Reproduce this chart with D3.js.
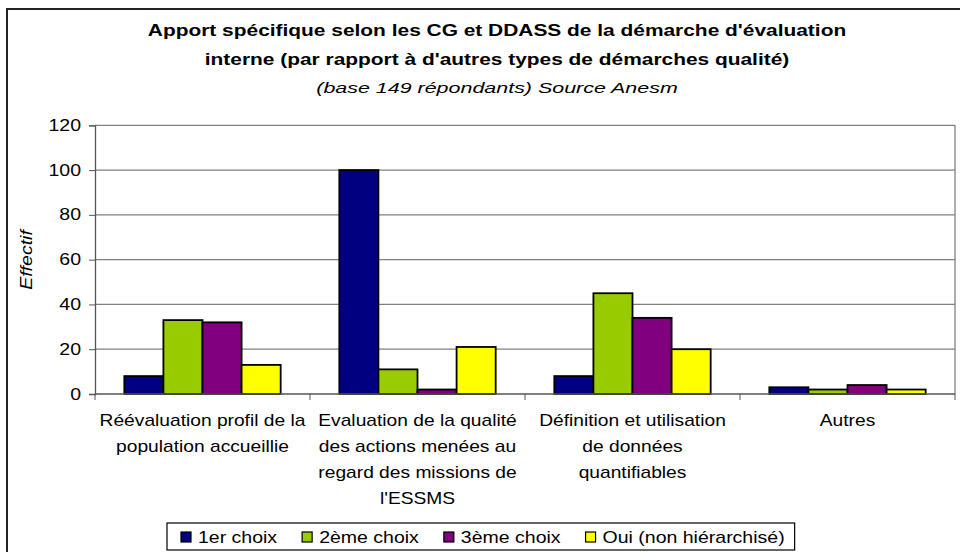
<!DOCTYPE html>
<meta charset="utf-8">
<head>
<title>Apport spécifique - évaluation interne</title>
<script src="https://cdn.jsdelivr.net/npm/d3@7"></script>
<style>
body { margin:0; background:#fff; }
text { font-family: Arial, "Liberation Sans", sans-serif; fill:#000; }
</style>
</head>
<body>
<svg id=mySVG width=960 height=552></svg>

<script>
// ---- data ----
var categories=[
  ["Réévaluation profil de la","population accueillie"],
  ["Evaluation de la qualité","des actions menées au","regard des missions de","l'ESSMS"],
  ["Définition et utilisation","de données","quantifiables"],
  ["Autres"]
]
var seriesNames=["1er choix","2ème choix","3ème choix","Oui (non hiérarchisé)"]
var seriesColors=["#000080","#99CC00","#800080","#FFFF00"]
var premierChoix=[8,100,8,3]
var deuxiemeChoix=[33,11,45,2]
var troisiemeChoix=[32,2,34,4]
var ouiNonHier=[13,21,20,2]
var yTicks=[0,20,40,60,80,100,120]
var titleLines=["Apport spécifique selon les CG et DDASS de la démarche d'évaluation",
                "interne (par rapport à d'autres types de démarches qualité)"]
var subTitle="(base 149 répondants) Source Anesm"
var yLabel="Effectif"

var series=[premierChoix,deuxiemeChoix,troisiemeChoix,ouiNonHier]

var svg=d3.select("#mySVG")

// helper: text stretched horizontally around its anchor (original is stretched sideways)
function sText(g,str,x,y,size,sx)
{
  return g.append("text")
    .attr("transform","translate("+x+","+y+") scale("+sx+",1)")
    .attr("font-size",size)
    .text(str)
}

//---outer frame (cut off at right/bottom)---
svg.append("rect")
  .attr("x",7).attr("y",9)
  .attr("width",1000).attr("height",600)
  .attr("fill","#fff")
  .attr("stroke","#222")
  .attr("stroke-width",2)

//---titles---
var tG=svg.append("g").attr("text-anchor","middle")
titleLines.forEach(function(t,i){
  sText(tG,t,497,36+i*29,17,1.23).attr("font-weight","bold")
})
sText(tG,subTitle,497,93,15,1.43).attr("font-style","italic")

//---plot area---
var plot={left:95,right:955,top:125.3,bottom:394}

var x0=d3.scaleBand()
  .domain(d3.range(categories.length))
  .range([plot.left,plot.right])
  .padding(0)

var gap=1.5
var half=x0.bandwidth()*gap/(series.length+gap)/2
var x1=d3.scaleBand()
  .domain(d3.range(series.length))
  .range([half, x0.bandwidth()-half])
  .padding(0)

var y=d3.scaleLinear()
  .domain([0,120])
  .range([plot.bottom,plot.top])

// gridlines
svg.append("g")
  .selectAll("line")
  .data(yTicks.slice(1))
  .join("line")
  .attr("x1",plot.left).attr("x2",plot.right)
  .attr("y1",function(d){return y(d)}).attr("y2",function(d){return y(d)})
  .attr("stroke","#808080")
  .attr("stroke-width",1.3)

// right border of plot area
svg.append("line")
  .attr("x1",plot.right).attr("x2",plot.right)
  .attr("y1",plot.top).attr("y2",plot.bottom)
  .attr("stroke","#808080")
  .attr("stroke-width",1.3)

// bars
var groups=svg.append("g")
  .selectAll("g")
  .data(series)
  .join("g")
  .attr("fill",function(d,i){return seriesColors[i]})

groups.each(function(vals,si){
  d3.select(this).selectAll("rect")
    .data(vals)
    .join("rect")
    .attr("x",function(d,ci){return x0(ci)+x1(si)})
    .attr("width",x1.bandwidth())
    .attr("y",function(d){return y(d)})
    .attr("height",function(d){return y(0)-y(d)})
    .attr("stroke","#000")
    .attr("stroke-width",1.8)
})

// y axis
var sxTick=1.22
var yAxis=svg.append("g")
  .attr("transform","translate("+plot.left+",0)")
  .call(d3.axisLeft(y).tickValues(yTicks).tickSize(6).tickPadding(5).tickFormat(d3.format("d")))
yAxis.select(".domain").attr("stroke","#555").attr("stroke-width",1.3)
yAxis.selectAll(".tick line").attr("stroke","#555")
yAxis.selectAll(".tick text")
  .attr("font-size",16)
  .attr("font-family","Arial, 'Liberation Sans', sans-serif")
  .attr("transform","scale("+sxTick+",1)")
  .attr("x",-14/sxTick)

// x axis with ticks between categories
var xAxis=svg.append("g")
  .attr("transform","translate(0,"+plot.bottom+")")
xAxis.append("line")
  .attr("x1",plot.left).attr("x2",plot.right)
  .attr("stroke","#555").attr("stroke-width",1.3)
xAxis.selectAll(".xtick")
  .data(d3.range(categories.length+1))
  .join("line")
  .attr("class","xtick")
  .attr("x1",function(i){return plot.left+i*x0.step()})
  .attr("x2",function(i){return plot.left+i*x0.step()})
  .attr("y1",0).attr("y2",6)
  .attr("stroke","#555")

// category labels
var cG=svg.append("g").attr("text-anchor","middle")
categories.forEach(function(lines,ci){
  lines.forEach(function(l,li){
    sText(cG,l,x0(ci)+x0.bandwidth()/2,426+li*26,16,1.2)
  })
})

// y label
svg.append("text")
  .attr("transform","translate(31.5,260) rotate(-90) scale(1.22,1)")
  .attr("text-anchor","middle")
  .attr("font-size",16)
  .attr("font-style","italic")
  .text(yLabel)

//---legend---
var legG=svg.append("g")
var legBox=legG.append("rect")
  .attr("y",523).attr("height",27)
  .attr("fill","#fff")
  .attr("stroke","#000")
  .attr("stroke-width",1.2)

var sxLeg=1.22
var lx=181
seriesNames.forEach(function(n,i){
  legG.append("rect")
    .attr("x",lx).attr("y",532)
    .attr("width",10).attr("height",10)
    .attr("fill",seriesColors[i])
    .attr("stroke","#000")
    .attr("stroke-width",1.2)
  var t=sText(legG,n,lx+17,542.5,16,sxLeg)
  lx+=17+t.node().getComputedTextLength()*sxLeg+25
})
legBox.attr("x",167).attr("width",lx-25+10-167)
</script>
</body>
